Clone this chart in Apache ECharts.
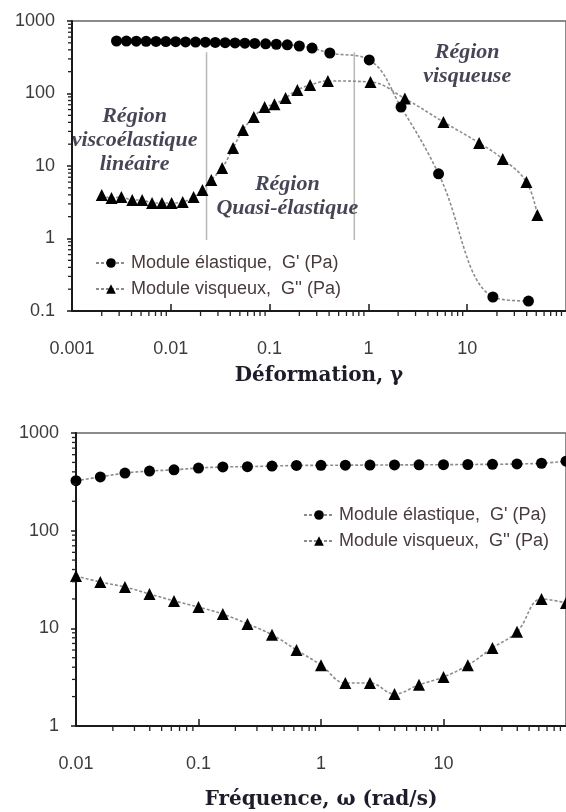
<!DOCTYPE html>
<html>
<head>
<meta charset="utf-8">
<script src="https://cdn.jsdelivr.net/npm/echarts@6/dist/echarts.min.js"></script>
<style>
  html, body { margin: 0; padding: 0; background: #fff; }
  #chart { width: 566px; height: 812px; }
</style>
</head>
<body>
<div id="chart"></div>
<script>
// --- top chart: strain sweep ---
var strainG1 = [0.00282, 0.00355, 0.00447, 0.00562, 0.00708, 0.00891, 0.0112, 0.0141, 0.0178, 0.0224,
  0.0282, 0.0355, 0.0447, 0.0562, 0.0708, 0.0912, 0.117, 0.151, 0.2, 0.269, 0.407, 1.02, 2.14, 5.13, 18.2, 41.7];
var elasticStrain = [530, 528, 527, 525, 523, 520, 518, 515, 512, 510,
  506, 502, 498, 494, 490, 485, 478, 470, 452, 424, 362, 290, 65, 7.8, 0.156, 0.137];
var strainG2 = [0.002, 0.00251, 0.00316, 0.00407, 0.00513, 0.00646, 0.00813, 0.0102, 0.0132, 0.017,
  0.0209, 0.0257, 0.0331, 0.0427, 0.0537, 0.0692, 0.0891, 0.112, 0.145, 0.191, 0.257, 0.389,
  1.05, 2.34, 5.75, 13.2, 22.9, 39.8, 51.3];
var viscousStrain = [3.98, 3.62, 3.74, 3.4, 3.4, 3.09, 3.09, 3.09, 3.19, 3.74,
  4.67, 6.41, 9.4, 17.7, 31.4, 47.5, 65, 71, 87, 112, 131, 149,
  144, 85, 40.5, 20.8, 12.5, 6.0, 2.11];
var regionBounds = [0.023, 0.72];
var regionSpan = [370, 0.95];
var regionLabels = [
  { name: "Région\nviscoélastique\nlinéaire", value: [0.0043, 22.9] },
  { name: "Région\nQuasi-élastique", value: [0.151, 3.86] },
  { name: "Région\nvisqueuse", value: [10, 251] }
];

// --- bottom chart: frequency sweep ---
var freq = [0.01, 0.0158, 0.0251, 0.0398, 0.0631, 0.1, 0.158, 0.251, 0.398, 0.631,
  1, 1.58, 2.51, 3.98, 6.31, 10, 15.8, 25.1, 39.8, 63.1, 100];
var elasticFreq = [325, 355, 389, 408, 420, 438, 449, 452, 459, 465,
  467, 468, 470, 471, 472, 474, 476, 478, 482, 490, 515];
var viscousFreq = [34.4, 29.8, 26.5, 22.5, 19.1, 16.5, 14.0, 11.1, 8.6, 6.0,
  4.2, 2.76, 2.76, 2.13, 2.64, 3.18, 4.2, 6.3, 9.2, 20, 18.2];

var nameG1 = "Module élastique,  G' (Pa)";
var nameG2 = "Module visqueux,  G'' (Pa)";

var sans = "Liberation Sans";
var serif = "DejaVu Serif";

function zip(xs, ys) {
  return xs.map(function (x, i) { return [x, ys[i]]; });
}

// minor log ticks (2..9 per decade)
function minorTicks(fromExp, toExp) {
  var out = [];
  for (var e = fromExp; e < toExp; e++) {
    for (var k = 2; k <= 9; k++) out.push(+(k * Math.pow(10, e)).toPrecision(3));
  }
  return out;
}

function tickSeries(idx, dir, values, fixed) {
  return {
    type: "custom",
    xAxisIndex: idx,
    yAxisIndex: idx,
    silent: true,
    clip: false,
    z: 10,
    encode: { x: 0, y: 1 },
    data: values.map(function (v) { return dir === "x" ? [v, fixed] : [fixed, v]; }),
    renderItem: function (params, api) {
      var p = api.coord([api.value(0), api.value(1)]);
      var shape = dir === "x"
        ? { x1: p[0], y1: p[1], x2: p[0], y2: p[1] + 5 }
        : { x1: p[0] - 4, y1: p[1], x2: p[0], y2: p[1] };
      return { type: "line", shape: shape, style: { stroke: "#222", lineWidth: 1.3 } };
    }
  };
}

function lineSeries(idx, name, data, symbol) {
  return {
    name: name,
    type: "line",
    xAxisIndex: idx,
    yAxisIndex: idx,
    data: data,
    smooth: 0.4,
    symbol: symbol,
    symbolSize: symbol === "circle" ? 11 : 12,
    itemStyle: { color: "#000" },
    lineStyle: { color: "#8c8c8c", width: 1.6, type: [3, 2] },
    z: 3
  };
}

var axisLine = { show: true, lineStyle: { color: "#1a1a1a", width: 2 } };
var labelFmt = function (v) { return String(+(+v).toPrecision(6)); };

function xAx(idx, min, name, gap) {
  return {
    type: "log", logBase: 10, gridIndex: idx, min: min, max: 100,
    axisLine: axisLine,
    axisTick: { show: true, inside: true, length: 7, lineStyle: { color: "#1a1a1a", width: 1.5 } },
    axisLabel: { color: "#3c3c3c", fontFamily: sans, fontSize: 18, margin: 29, formatter: labelFmt, showMaxLabel: false },
    splitLine: { show: false },
    name: name, nameLocation: "middle", nameGap: gap,
    nameTextStyle: { fontFamily: serif, fontWeight: "bold", fontSize: 20, color: "#1c1c2a" }
  };
}

function yAx(idx, min) {
  return {
    type: "log", logBase: 10, gridIndex: idx, min: min, max: 1000,
    axisLine: axisLine,
    axisTick: { show: true, inside: false, length: 5, lineStyle: { color: "#1a1a1a", width: 1.5 } },
    axisLabel: { color: "#3c3c3c", fontFamily: sans, fontSize: 18, margin: 17, formatter: labelFmt },
    splitLine: { show: false }
  };
}

var chart = echarts.init(document.getElementById("chart"));

var series = [
  lineSeries(0, nameG1, zip(strainG1, elasticStrain), "circle"),
  lineSeries(0, nameG2, zip(strainG2, viscousStrain), "triangle"),
  lineSeries(1, nameG1, zip(freq, elasticFreq), "circle"),
  lineSeries(1, nameG2, zip(freq, viscousFreq), "triangle"),
  {
    type: "scatter", xAxisIndex: 0, yAxisIndex: 0, symbolSize: 0, silent: true,
    data: regionLabels,
    label: {
      show: true, position: "inside", formatter: "{b}", align: "center",
      fontFamily: "Liberation Serif", fontStyle: "italic", fontWeight: "bold", fontSize: 22, lineHeight: 24,
      color: "#16162a", textBorderWidth: 0
    }
  },
  tickSeries(0, "x", minorTicks(-3, 2), 0.1),
  tickSeries(0, "y", minorTicks(-1, 3), 0.001),
  tickSeries(1, "x", minorTicks(-2, 2), 1),
  tickSeries(1, "y", minorTicks(0, 3), 0.01)
];

regionBounds.forEach(function (b) {
  series.push({
    type: "line", xAxisIndex: 0, yAxisIndex: 0, silent: true, symbol: "none",
    data: [[b, regionSpan[0]], [b, regionSpan[1]]],
    lineStyle: { color: "#b8b8b8", width: 1.5 }, z: 1
  });
});

var legendBase = {
  orient: "vertical",
  itemWidth: 30,
  itemHeight: 12,
  itemGap: 8,
  textStyle: { fontFamily: sans, fontSize: 18, color: "#4a3a3c" },
  data: [nameG1, nameG2]
};

var option = {
  animation: false,
  backgroundColor: "#fff",
  grid: [
    { left: 72, right: -6, top: 21, bottom: 501, show: true, borderColor: "#666", borderWidth: 1.5 },
    { left: 76, right: -4, top: 433, bottom: 86, show: true, borderColor: "#666", borderWidth: 1.5 }
  ],
  xAxis: [xAx(0, 0.001, "Déformation, γ", 55), xAx(1, 0.01, "Fréquence, ω (rad/s)", 64)],
  yAxis: [yAx(0, 0.1), yAx(1, 1)],
  legend: [
    Object.assign({}, legendBase, { left: 90, top: 249 }),
    Object.assign({}, legendBase, { left: 298, top: 501 })
  ],
  series: series
};

chart.setOption(option);
</script>
</body>
</html>
